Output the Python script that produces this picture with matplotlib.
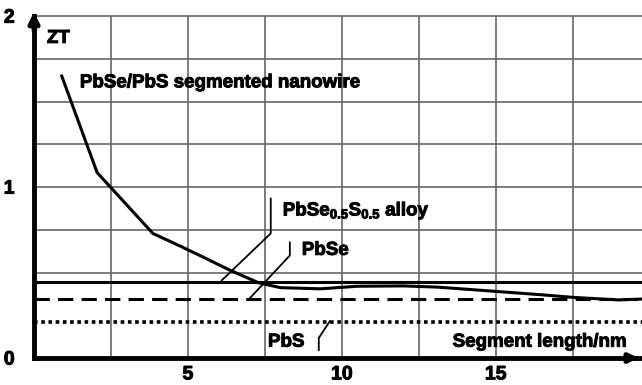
import numpy as np
import matplotlib.pyplot as plt
import matplotlib.patheffects as pe

plt.rcParams['font.family'] = ['Liberation Sans', 'DejaVu Sans']
plt.rcParams['font.weight'] = 'bold'
plt.rcParams['mathtext.fontset'] = 'custom'
plt.rcParams['mathtext.rm'] = 'Liberation Sans:bold'
plt.rcParams['mathtext.it'] = 'Liberation Sans:bold:italic'

# ZT of the segmented nanowire vs segment length
seg_len = [0.9, 2.05, 3.86, 4.75, 5.5, 6.35, 7.3, 8.0, 9.3, 10.5, 12.0, 13.1, 15.0, 16.5, 17.5, 19.0, 19.7]
zt_wire = [1.65, 1.085, 0.729, 0.655, 0.59, 0.515, 0.44, 0.412, 0.405, 0.42, 0.422, 0.415, 0.39, 0.37, 0.355, 0.34, 0.345]

# bulk reference values
zt_alloy = 0.443
zt_pbse = 0.344
zt_pbs = 0.21

x_ticks = [5, 10, 15]
y_ticks = [0, 1, 2]

fig = plt.figure(figsize=(6.42, 3.85), dpi=100)
ax = fig.add_axes([0.053, 0.07, 0.947, 0.888])
ax.set_xlim(0, 19.75)
ax.set_ylim(0, 2)

# grid
for gx in np.arange(2.5, 19, 2.5):
    ax.axvline(gx, color='#666666', lw=1.2, zorder=1)
for gy in np.arange(0.5, 2.01, 0.25):
    ax.axhline(gy, color='#666666', lw=1.2, zorder=1, clip_on=False)

ax.plot(seg_len, zt_wire, color='k', lw=2.2, zorder=3)
ax.axhline(zt_alloy, color='k', lw=2.2, zorder=3)
ax.axhline(zt_pbse, color='k', lw=2.2, dashes=(5, 2.7), zorder=3)
ax.axhline(zt_pbs, color='k', lw=2.6, dashes=(1, 1), zorder=3)

# leader lines
ax.plot([7.69, 7.69, 6.10], [0.933, 0.729, 0.455], color='k', lw=1.3, zorder=4)
ax.plot([8.31, 8.31, 7.01], [0.676, 0.60, 0.35], color='k', lw=1.3, zorder=4)
ax.plot([9.25, 9.25, 9.61], [0.047, 0.117, 0.216], color='k', lw=1.3, zorder=4)

fs = 13.5
heavy = [pe.withStroke(linewidth=0.7, foreground='k')]
ax.text(0.42, 1.87, 'ZT', fontsize=fs, va='center', path_effects=heavy)
ax.text(1.49, 1.61, 'PbSe/PbS segmented nanowire', fontsize=fs, va='center', path_effects=heavy)
ax.text(8.08, 0.86, r'PbSe$_{0.5}$S$_{0.5}$ alloy', fontsize=fs, va='center', path_effects=heavy)
ax.text(8.7, 0.63, 'PbSe', fontsize=fs, va='center', path_effects=heavy)
ax.text(7.6, 0.093, 'PbS', fontsize=fs, va='center', path_effects=heavy)
ax.text(13.6, 0.093, 'Segment length/nm', fontsize=fs, va='center', path_effects=heavy)

# axes with arrows
for s in ['top', 'right']:
    ax.spines[s].set_visible(False)
ax.spines['left'].set_linewidth(3.5)
ax.spines['bottom'].set_linewidth(3.5)
ax.annotate('', xy=(0, 2.04), xytext=(0, 1.9), annotation_clip=False,
            arrowprops=dict(arrowstyle='-|>,head_length=0.6,head_width=0.3', color='k', lw=3.5))
ax.annotate('', xy=(19.72, 0), xytext=(19.2, 0), annotation_clip=False,
            arrowprops=dict(arrowstyle='-|>,head_length=0.5,head_width=0.25', color='k', lw=3.5))

ax.set_xticks(x_ticks)
ax.set_yticks(y_ticks)
ax.tick_params(length=0, labelsize=14, pad=6)
ax.tick_params(axis='y', pad=14)
for lab in ax.get_xticklabels() + ax.get_yticklabels():
    lab.set_path_effects(heavy)

fig.savefig('out.png', dpi=100)
